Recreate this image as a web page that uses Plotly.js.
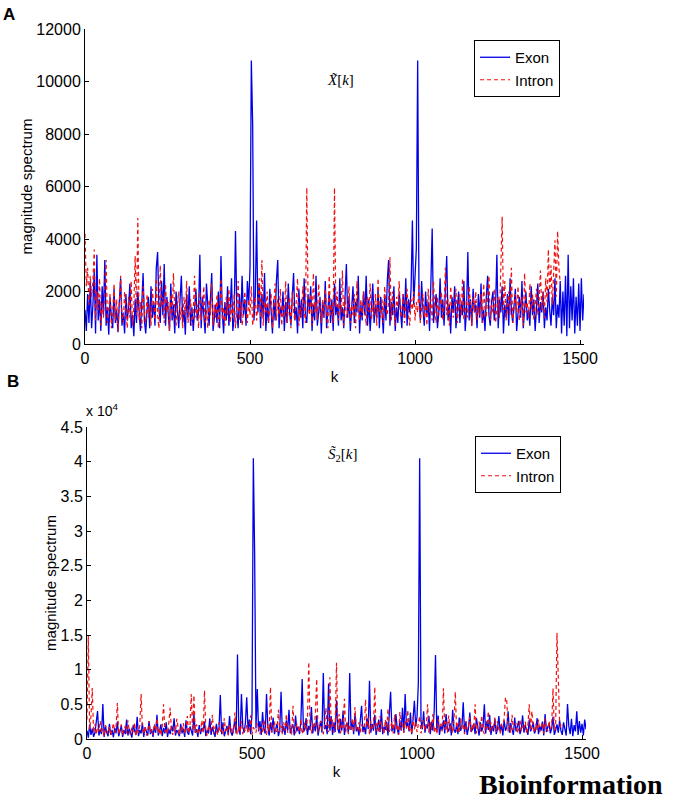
<!DOCTYPE html>
<html><head><meta charset="utf-8">
<script src="https://cdn.plot.ly/plotly-3.0.1.min.js"></script>
<style>html,body{margin:0;padding:0;background:#fff}#chart{width:677px;height:804px}</style>
</head><body><div id="chart"></div>
<script>
// sample spacing in k (DFT index)
const kStep = 4;

// Panel A: magnitude spectrum of X~[k]  (k = 0, 4, 8, ... )
const exonA = [
1300,500,1900,800,2400,600,1500,2800,400,3400,
900,1700,500,2200,1100,3200,700,1400,350,1800,
1000,600,2100,800,1300,450,1600,2500,700,1200,
400,1900,900,1400,2300,600,1100,300,1700,800,
2000,1200,500,1500,2700,900,400,1300,1800,600,
2200,1000,1600,700,2900,3500,1400,800,2400,1100,
3050,700,1800,1200,500,2300,900,1500,400,2000,
1100,600,1700,2600,800,1300,350,1900,1000,2200,
700,1400,500,1600,2100,900,1200,3400,600,1800,
1000,400,2300,1300,700,1700,2700,500,1100,1500,
800,2000,600,3350,1200,400,1600,900,2200,700,
1400,2500,500,1000,4300,1300,600,1900,800,2600,
1100,1700,700,2400,1500,2900,10800,8400,900,1800,
4700,1200,2300,600,1900,1000,2700,500,1500,800,
2100,1300,400,1700,900,2400,3200,600,1400,1100,
2000,500,1600,800,2300,1200,700,1800,2700,900,
1400,400,2100,1000,1700,600,2500,1100,800,1900,
1300,2200,500,1500,900,2600,700,1200,1800,400,
1600,1000,2400,600,1300,2000,800,1700,500,2300,
1100,1500,700,2500,900,1400,600,1900,3050,1000,
1800,500,1300,2200,800,1600,1200,2600,400,1500,
900,2000,1100,2600,700,1700,500,1300,2300,800,
1500,1000,2100,600,1800,1200,400,1900,900,2400,
3200,700,1600,1100,2200,500,1400,800,2000,1300,
600,1900,1000,2500,700,1700,1200,2100,4700,1500,
2600,3650,10800,1800,900,2400,1300,700,2000,1100,
1600,500,2300,4400,800,1400,1900,600,1200,2500,
1000,1700,700,2100,3350,900,1500,400,1800,1200,
2200,600,1400,2000,800,1600,1100,2400,500,1300,
3500,900,1700,700,2100,1200,1500,600,1900,1000,
2300,800,1300,500,1800,2600,1100,700,1600,2000,
900,1400,3400,600,1700,1200,2200,400,1500,1000,
1900,700,2500,1300,800,1600,2100,500,1200,1800,
1000,2400,600,1500,2000,900,1300,700,2200,1100,
1700,500,1400,2300,800,1600,1200,2000,600,1400,
900,2100,1300,700,1800,1100,2500,600,1500,1000,
2400,400,2000,700,2600,300,3400,600,2200,900,
2500,400,1800,700,2300,500,2500,900,1900
];
const intronA = [
4200,2200,2900,1500,2600,1800,2400,3600,900,2000,
1300,2500,700,1600,1000,2100,3200,800,1400,1900,
600,1200,2300,900,1700,500,1500,2600,1100,800,
2000,1300,600,1800,1000,2400,700,1400,3350,1100,
4800,900,1600,600,2200,1200,800,1900,1000,1500,
700,2100,1300,900,2500,1100,600,3000,1400,1800,
800,2300,1200,1600,500,1900,1000,2700,1300,700,
1500,2000,900,1400,600,1800,1100,2400,800,1300,
1700,700,1200,2600,1000,1500,600,2000,900,1400,
2200,800,1300,600,1700,1100,2300,700,1500,1000,
1900,600,1200,2500,900,1400,700,1800,1100,2100,
800,1500,1000,1900,600,1300,2400,900,1600,700,
1200,2000,1400,800,1700,1100,2200,700,1300,1800,
900,1500,2500,1000,3200,700,1600,1200,2000,800,
1400,1900,600,1300,2300,900,1700,1100,2100,700,
1500,1000,2400,800,1300,1800,600,2000,1200,900,
1600,2500,700,1400,1000,2200,1300,800,5950,1500,
1100,1900,700,2700,1200,1600,900,2300,1400,800,
1700,1000,2100,1300,600,2600,1100,1500,800,5950,
1400,2000,900,1600,1200,2800,700,1800,1000,1300,
2200,800,1500,1100,1900,600,2400,1300,900,1700,
1000,2000,1400,700,1800,1200,2300,900,1500,1100,
1900,700,2500,1300,1000,1700,800,2200,1400,1100,
1600,3300,900,2000,1200,700,1800,1400,2400,1000,
1300,1900,800,1500,2100,1100,700,1700,1300,2000,
900,1600,1200,2300,800,1400,1900,1000,1500,700,
2100,1200,1700,900,2400,1300,800,1800,1100,1500,
2000,900,1400,2900,1100,1700,700,2200,1300,1000,
1600,2100,800,1400,1900,1100,2500,900,1300,1700,
1000,2200,1500,700,1800,1200,2000,900,1400,1100,
1900,800,2300,1300,1000,1700,2600,900,1500,1200,
2100,800,1400,1800,1000,3600,4850,1300,2400,900,
1600,2000,1100,2900,800,1500,1900,1200,2200,900,
1400,1800,700,2700,1200,1600,1000,2300,1300,1900,
900,1500,2100,1100,1700,2800,1300,2000,1000,2500,
1600,3600,1900,3000,1500,2700,3950,1800,4300,2900,
2300
];

// Panel B: magnitude spectrum of S~2[k]
const exonB = [
1200,200,2100,600,1500,300,900,2400,4040,500,
1400,700,5050,300,1800,900,400,2200,600,1300,
250,1600,800,2500,400,1100,1900,300,1300,700,
2800,500,1500,900,200,2000,1100,600,3200,400,
1300,800,2300,300,1700,1000,500,2600,700,1400,
300,1900,900,3500,500,1200,2100,400,1600,800,
2400,300,1400,700,1900,1100,3000,500,1300,900,
400,2200,800,1500,300,2700,1000,600,1800,1200,
500,3600,900,1400,300,2000,700,1600,1100,2500,
400,1300,800,3000,600,1700,1100,300,2200,900,
1500,6350,700,2400,400,1200,1900,600,3300,1000,
500,1600,2600,800,12200,1400,600,6500,1800,900,
2300,6000,1300,2800,700,3600,40500,26500,1500,7200,
1100,2600,600,3900,1400,800,6500,1700,500,2400,
1000,3100,700,1500,2200,400,1300,6800,900,1900,
600,2700,1200,4200,800,1600,2100,500,3400,1100,
1800,700,2500,8650,1000,1500,3000,600,1900,1300,
4600,800,2200,1100,3400,500,1700,2600,900,9500,
1400,2000,700,8000,1200,3300,600,2400,1000,5600,
1500,800,2900,1200,4100,600,1800,2300,900,9500,
1300,2600,700,3700,1100,1700,500,2400,4800,1000,
1900,700,3000,1400,8400,900,2200,1200,3500,600,
1600,2800,1000,4300,700,1800,1300,2500,500,3200,
6800,1100,2000,800,3600,1500,600,2700,1200,4500,
900,6500,1700,2400,1100,3800,700,2900,5500,1800,
3200,8100,40500,2600,1400,4000,900,2100,1500,3300,
700,2500,1200,4000,12100,1000,3400,600,1900,1300,
2700,800,3600,1500,1100,2300,500,4200,1400,900,
2000,700,3100,1200,1700,5300,900,2500,600,1600,
3800,1000,1400,2200,700,3000,1300,500,2400,1100,
1800,5000,800,2600,1300,3500,600,1900,1100,2900,
700,1500,3300,1000,2100,500,2700,1200,1700,4000,
900,2300,1400,600,3100,1100,1800,2600,700,1500,
3400,900,2000,1300,600,2800,1100,1600,2400,800,
1400,3000,700,1900,1200,2500,500,3600,1000,1700,
2200,800,1500,3200,600,1300,2100,900,2700,1200,
600,2400,1300,500,5050,1800,700,2900,400,2000,
1100,4000,600,2600,900,2200,500,2800,1400
];
const intronB = [
2800,15000,1400,3200,7350,900,2200,600,1700,1100,
2600,800,1500,400,2000,1200,700,1800,500,1300,
2300,900,1600,5200,700,1400,2100,500,1200,1900,
800,2700,1100,600,1700,1000,2400,400,1500,900,
2000,6500,1300,700,1800,500,1100,2600,900,1400,
600,2200,1200,3000,800,1600,500,1900,5000,1000,
1500,700,2400,4500,1100,600,1800,900,2900,1300,
500,1700,1000,2300,700,1400,3300,800,1900,6500,
1200,6300,900,2100,600,1600,1100,2700,800,7000,
1300,500,2000,1000,1500,3500,700,1800,1200,600,
2400,900,1400,700,3000,1100,1700,500,2200,1000,
1600,800,3800,1200,600,1900,1000,2600,700,1500,
1100,2000,800,1400,3400,600,1700,1200,900,2300,
1300,700,1800,1000,2800,1500,600,2100,1100,7500,
900,1600,2500,800,1300,4200,1000,1900,700,2400,
1200,3600,900,1500,2000,600,4800,1300,800,2200,
1700,1000,2900,700,1400,2400,1100,3100,11100,1500,
800,2300,1300,3700,8650,900,1900,2600,1200,700,
2100,4500,1400,1000,8900,1700,2800,900,1500,11000,
1300,3600,800,2200,1600,5800,1000,2500,700,1900,
1400,3000,900,4600,1700,1100,2400,800,2100,1500,
1000,5700,1800,3100,700,2600,1300,1900,7500,1100,
2300,900,3300,1500,2000,700,2800,1200,4400,1000,
1700,2500,800,3500,1400,2100,600,3900,1300,2200,
900,2600,1500,4200,1100,1800,700,3200,1400,2400,
1000,2000,3300,800,1600,2700,1200,1900,5000,900,
2400,1300,3600,1000,1800,700,2900,1500,2200,1100,
7300,1400,2500,900,3400,1200,2000,800,2700,6800,
1100,2300,900,3000,1500,2000,700,2600,1300,1800,
3200,1000,2200,1400,5000,800,1900,2500,1100,3400,
1300,700,2100,1600,4000,900,2400,1200,1800,3100,
1000,2600,1400,800,2200,1500,3000,6000,5500,1100,
2000,900,3500,1300,1700,2300,800,1500,2800,1100,
1900,1400,2500,700,2000,5000,1200,4000,1600,900,
2200,1300,2800,1000,1700,2400,800,3000,1500,1100,
2600,1400,2000,7300,1200,1800,15300,9000,2400,1600,
2100
];

// Tick labels
const xTicks = [0, 500, 1000, 1500];
const yTicksA = [0, 2000, 4000, 6000, 8000, 10000, 12000];
const yTickTextA = ['0', '2000', '4000', '6000', '8000', '10000', '12000'];
const yTicksB = [0, 5000, 10000, 15000, 20000, 25000, 30000, 35000, 40000, 45000];
const yTickTextB = ['0', '0.5', '1', '1.5', '2', '2.5', '3', '3.5', '4', '4.5'];
const seriesNames = ['Exon', 'Intron'];

const blue = '#0000e8';
const red = '#f01010';
const dashPat = '4px,3px';
const font = 'Liberation Sans, Arial, sans-serif';

const traces = [
  {y: exonA, x0: 0, dx: kStep, type: 'scatter', mode: 'lines', name: seriesNames[0],
   line: {color: blue, width: 1.3}, xaxis: 'x', yaxis: 'y', legend: 'legend'},
  {y: intronA, x0: 0, dx: kStep, type: 'scatter', mode: 'lines', name: seriesNames[1],
   line: {color: red, width: 1.2, dash: dashPat}, xaxis: 'x', yaxis: 'y', legend: 'legend'},
  {y: exonB, x0: 0, dx: kStep, type: 'scatter', mode: 'lines', name: seriesNames[0],
   line: {color: blue, width: 1.3}, xaxis: 'x2', yaxis: 'y2', legend: 'legend2'},
  {y: intronB, x0: 0, dx: kStep, type: 'scatter', mode: 'lines', name: seriesNames[1],
   line: {color: red, width: 1.2, dash: dashPat}, xaxis: 'x2', yaxis: 'y2', legend: 'legend2'}
];

const W = 677, H = 804;
const axBase = {
  showgrid: false, zeroline: false, showline: true, linecolor: '#000', linewidth: 1,
  ticks: 'inside', ticklen: 4, tickcolor: '#000', mirror: false,
  tickfont: {family: font, size: 16, color: '#000'}, fixedrange: true
};

const legendBase = {
  bgcolor: '#fff', bordercolor: '#000', borderwidth: 1,
  font: {family: font, size: 15, color: '#000'},
  xanchor: 'left', yanchor: 'top', tracegroupgap: 0, itemwidth: 30,
  entrywidth: 92, entrywidthmode: 'pixels'
};

const layout = {
  width: W, height: H,
  margin: {l: 0, r: 0, t: 0, b: 0},
  paper_bgcolor: '#fff', plot_bgcolor: '#fff',
  font: {family: font, size: 15, color: '#000'},
  showlegend: true,
  xaxis: Object.assign({}, axBase, {
    domain: [85 / W, 584 / W], range: [0, 1512], tickvals: xTicks, anchor: 'y',
    title: {text: 'k', font: {family: font, size: 15}, standoff: 5}
  }),
  yaxis: Object.assign({}, axBase, {
    domain: [1 - 344 / H, 1 - 29 / H], range: [0, 12000], tickvals: yTicksA, ticktext: yTickTextA, anchor: 'x',
    title: {text: 'magnitude spectrum', font: {family: font, size: 15}, standoff: 0}
  }),
  xaxis2: Object.assign({}, axBase, {
    domain: [87 / W, 586 / W], range: [0, 1512], tickvals: xTicks, anchor: 'y2',
    title: {text: 'k', font: {family: font, size: 15}, standoff: 5}
  }),
  yaxis2: Object.assign({}, axBase, {
    domain: [1 - 739 / H, 1 - 427 / H], range: [0, 45000], tickvals: yTicksB, ticktext: yTickTextB, anchor: 'x2',
    title: {text: 'magnitude spectrum', font: {family: font, size: 15}, standoff: 0}
  }),
  legend: Object.assign({}, legendBase, {x: 474 / W, y: 1 - 40 / H}),
  legend2: Object.assign({}, legendBase, {x: 475 / W, y: 1 - 436 / H}),
  annotations: [
    {text: '<b>A</b>', xref: 'paper', yref: 'paper', x: 1 / W, y: 1 - 3 / H, xanchor: 'left', yanchor: 'top',
     showarrow: false, font: {family: font, size: 17, color: '#000'}},
    {text: '<b>B</b>', xref: 'paper', yref: 'paper', x: 5 / W, y: 1 - 370 / H, xanchor: 'left', yanchor: 'top',
     showarrow: false, font: {family: font, size: 17, color: '#000'}},
    {text: '<i>X\u0303</i>[<i>k</i>]', xref: 'paper', yref: 'paper', x: 340 / W, y: 1 - 80 / H,
     xanchor: 'center', yanchor: 'middle', showarrow: false,
     font: {family: 'Liberation Serif, Times New Roman, serif', size: 15, color: '#000'}},
    {text: '<i>S\u0303</i><sub>2</sub>[<i>k</i>]', xref: 'paper', yref: 'paper', x: 342 / W, y: 1 - 455 / H,
     xanchor: 'center', yanchor: 'middle', showarrow: false,
     font: {family: 'Liberation Serif, Times New Roman, serif', size: 15, color: '#000'}},
    {text: 'x 10<sup>4</sup>', xref: 'paper', yref: 'paper', x: 84 / W, y: 1 - 421 / H,
     xanchor: 'left', yanchor: 'bottom', showarrow: false,
     font: {family: font, size: 14, color: '#000'}},
    {text: '<b>Bioinformation</b>', xref: 'paper', yref: 'paper', x: 571 / W, y: 1 - 784 / H,
     xanchor: 'center', yanchor: 'middle', showarrow: false,
     font: {family: 'Liberation Serif, Times New Roman, serif', size: 28, color: '#000'}}
  ]
};

Plotly.newPlot('chart', traces, layout, {displayModeBar: false, staticPlot: true});
</script>
</body></html>
